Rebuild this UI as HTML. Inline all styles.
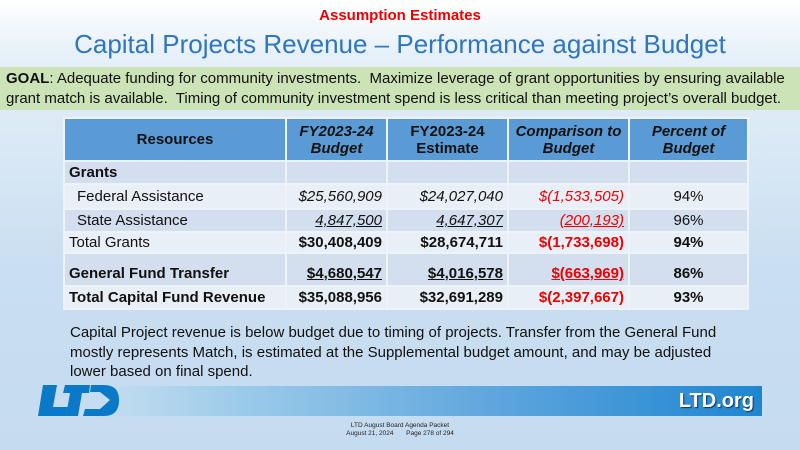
<!DOCTYPE html>
<html><head><meta charset="utf-8"><style>
*{margin:0;padding:0;box-sizing:border-box}
body{width:800px;height:450px;overflow:hidden;font-family:"Liberation Sans",sans-serif;background:linear-gradient(180deg,#ffffff 0%,#e6f0f9 12%,#c9def1 60%,#c5dbef 100%);position:relative}
.a{position:absolute}
table{border-collapse:collapse;font-size:15px;color:#111;table-layout:fixed}
td{padding:0 4px;border:2px solid #eef3fa;white-space:nowrap;overflow:hidden}
.r{text-align:right}.c{text-align:center}.red{color:#e00}
</style></head><body>
<div class="a" style="left:0;top:7px;width:800px;text-align:center;color:#e00;font-weight:bold;font-size:15px">Assumption Estimates</div>
<div class="a" style="left:0;top:29px;width:800px;text-align:center;color:#2f76bd;font-size:26px">Capital Projects Revenue – Performance against Budget</div>
<div class="a" style="left:0;top:67px;width:800px;height:43px;background:#cbe3b6;font-size:15px;line-height:20px;padding:2px 6px;color:#111"><b>GOAL</b>: Adequate funding for community investments.&nbsp; Maximize leverage of grant opportunities by ensuring available grant match is available.&nbsp; Timing of community investment spend is less critical than meeting project’s overall budget.</div>
<table class="a" style="left:63px;top:117px;width:684px">
<col style="width:222px"><col style="width:101px"><col style="width:121px"><col style="width:121px"><col style="width:119px">
<tr style="background:#5b9bd5;height:43px;font-weight:bold;text-align:center"><td>Resources</td><td><i>FY2023-24<br>Budget</i></td><td>FY2023-24<br>Estimate</td><td><i>Comparison to<br>Budget</i></td><td><i>Percent of<br>Budget</i></td></tr>
<tr style="background:#d3dfee;height:23px"><td><b>Grants</b></td><td></td><td></td><td></td><td></td></tr>
<tr style="background:#e9eff7;height:25px"><td style="padding-left:12px">Federal Assistance</td><td class="r"><i>$25,560,909</i></td><td class="r"><i>$24,027,040</i></td><td class="r red"><i>$(1,533,505)</i></td><td class="c">94%</td></tr>
<tr style="background:#d3dfee;height:23px"><td style="padding-left:12px">State Assistance</td><td class="r"><i><u>4,847,500</u></i></td><td class="r"><i><u>4,647,307</u></i></td><td class="r red"><i><u>(200,193)</u></i></td><td class="c">96%</td></tr>
<tr style="background:#e9eff7;height:21px"><td>Total Grants</td><td class="r"><b>$30,408,409</b></td><td class="r"><b>$28,674,711</b></td><td class="r red"><b>$(1,733,698)</b></td><td class="c"><b>94%</b></td></tr>
<tr style="background:#d3dfee;height:33px;font-weight:bold;vertical-align:bottom"><td style="padding-bottom:3px">General Fund Transfer</td><td class="r" style="padding-bottom:3px"><u>$4,680,547</u></td><td class="r" style="padding-bottom:3px"><u>$4,016,578</u></td><td class="r red" style="padding-bottom:3px"><u>$(663,969)</u></td><td class="c" style="padding-bottom:3px">86%</td></tr>
<tr style="background:#e9eff7;height:23px;font-weight:bold"><td>Total Capital Fund Revenue</td><td class="r">$35,088,956</td><td class="r">$32,691,289</td><td class="r red">$(2,397,667)</td><td class="c">93%</td></tr>
</table>
<div class="a" style="left:70px;top:323px;width:670px;font-size:15px;line-height:19.5px;color:#111">Capital Project revenue is below budget due to timing of projects. Transfer from the General Fund mostly represents Match, is estimated at the Supplemental budget amount, and may be adjusted lower based on final spend.</div>
<div class="a" style="left:110px;top:386px;width:652px;height:30px;background:linear-gradient(90deg,#c3dcf0 0%,#9ccbe9 20%,#5aa3dc 62%,#1e86d0 100%)"></div>
<div class="a" style="right:46px;top:390px;color:#fff;font-weight:bold;font-size:20px;text-shadow:1px 1px 1px #135">LTD.org</div>
<svg class="a" style="left:38px;top:385px" width="82" height="32" viewBox="0 0 82 32"><g fill="#0a7ac8"><polygon points="5,0 19,0 15,22 30,22 28,31 0,31"/><polygon points="27,0 52,0 51,8 44,8 40,31 28,31 32,8 25,8"/><path d="M53,0 H66 Q81,0 81,15 Q81,31 66,31 H45 L47,24 H62 L72,15 L62,7 H52 Z"/></g></svg>
<div class="a" style="left:0;top:422px;width:800px;text-align:center;font-size:6.5px;color:#222;line-height:8px">LTD August Board Agenda Packet<br>August 21, 2024 &nbsp;&nbsp;&nbsp;&nbsp;&nbsp; Page 278 of 294</div>
</body></html>
